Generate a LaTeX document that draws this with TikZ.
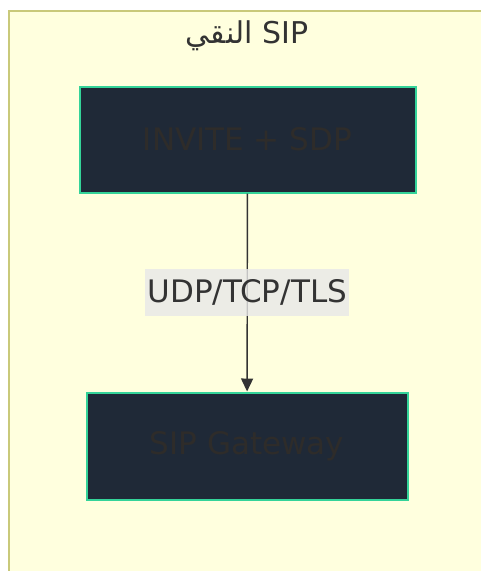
\documentclass[tikz,border=0pt]{standalone}
\usepackage{fontspec}
\setmainfont{DejaVu Sans}
\newfontfamily\arabicfont[Script=Arabic]{DejaVu Sans}
\TeXXeTstate=1
\usetikzlibrary{arrows.meta,positioning}
\definecolor{grupo}{HTML}{FFFFDE}
\definecolor{grupoborde}{HTML}{C9C97A}
\definecolor{fondo}{HTML}{1F2937}
\definecolor{borde}{HTML}{34D399}
\definecolor{tinta}{HTML}{333333}
\definecolor{tintacaja}{HTML}{2E2C2A}
\definecolor{etiq}{HTML}{E8E8E8}
\tikzset{
  cluster/.style={draw=grupoborde,fill=grupo,line width=1.5pt},
  caja/.style={rectangle,draw=borde,fill=fondo,line width=2pt,inner sep=0pt,text=tintacaja,font=\fontsize{31}{36}\selectfont},
  titulo/.style={text=tinta,inner sep=0pt,font=\fontsize{30}{36}\selectfont},
  flecha/.style={draw=tinta,line width=1.4pt,-{Triangle[length=13pt,width=12pt]}},
  etiqueta/.style={fill=etiq,fill opacity=0.8,text opacity=1,text=tinta,inner xsep=2.5pt,inner ysep=0pt,minimum height=47pt,font=\fontsize{31}{36}\selectfont},
}
\begin{document}
\begin{tikzpicture}[x=1pt,y=-1pt]
\useasboundingbox (0,0) rectangle (481,571);
\clip (0,0) rectangle (481,571);
\fill[white] (0,0) rectangle (481,571);
\draw[cluster] (9,11) rectangle (500,590);
\node[titulo] (nombre) at (247,36) {{\arabicfont\beginR النقي\endR} SIP};
\node[caja,minimum width=336pt,minimum height=106pt] (invite) at (247.5,139.5) {INVITE + SDP};
\node[caja,minimum width=321pt,minimum height=107pt] (gateway) at (247,446) {SIP Gateway};
\draw[flecha] (invite) -- (gateway) node[etiqueta,midway,yshift=0.5pt] {UDP/TCP/TLS};
\end{tikzpicture}
\end{document}
